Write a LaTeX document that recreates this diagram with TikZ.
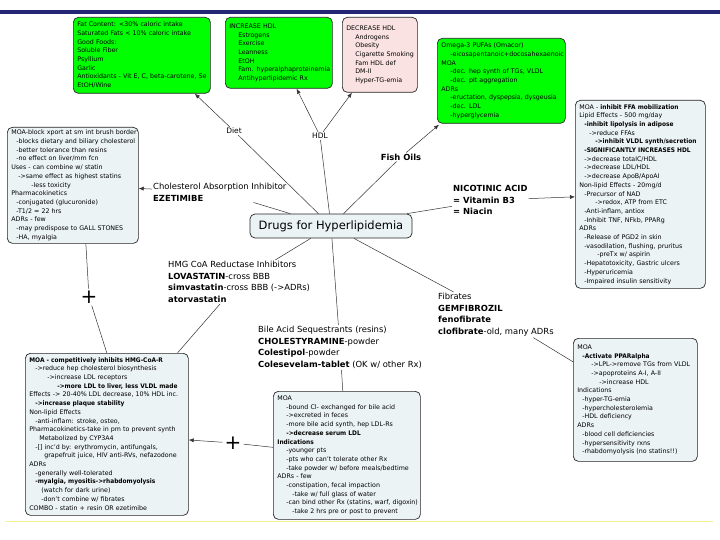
\documentclass[tikz,border=0pt]{standalone}
\usepackage{fontspec}
\setmainfont{DejaVu Sans}[BoldFeatures={FakeStretch=0.93}]
\newfontfamily\labfont{DejaVu Sans}
\usetikzlibrary{arrows.meta}
\definecolor{boxgreen}{RGB}{0,255,0}
\definecolor{boxpink}{RGB}{251,226,226}
\definecolor{boxgray}{RGB}{236,243,245}
\definecolor{navybar}{RGB}{38,38,118}
\definecolor{yelline}{RGB}{246,240,150}
\newcommand{\Ind}[1]{\hspace*{#1pt}}
\newcommand{\Tb}[1]{\begin{tabular}{@{}l@{}}#1\end{tabular}}
\tikzset{
  box/.style={draw=black!85, line width=0.7pt, rounded corners=5pt, anchor=north west,
    align=left, inner xsep=4pt, inner ysep=0pt,
    font=\fontsize{6.3}{8.7}\selectfont},
  gbox/.style={box, fill=boxgreen},
  pbox/.style={box, fill=boxpink},
  ibox/.style={box, fill=boxgray},
  lab/.style={align=left, inner sep=1pt, font=\labfont\fontsize{8.4}{11.7}\selectfont},
  conn/.style={draw=black!80, line width=0.5pt},
  arr/.style={conn, -{Latex[length=5pt,width=4pt]}},
  plus/.style={inner sep=2pt, font=\labfont\fontsize{20}{20}\selectfont},
}
\begin{document}
\begin{tikzpicture}[x=1pt,y=-1pt]
\useasboundingbox (0,0) rectangle (720,540);
\fill[white] (0,0) rectangle (720,540);
\fill[navybar] (0,10) rectangle (720,14);
\draw[yelline, line width=1.5pt] (5,521.5) -- (713,521.5);

% top boxes
\node[gbox, text width=129pt, minimum height=76pt] (fat) at (73,17) {\Tb{%
Fat Content: <30\% caloric intake\\
Saturated Fats < 10\% caloric intake\\
Good Foods:\\
Soluble Fiber\\
Psyllium\\
Garlic\\
Antioxidants - Vit E, C, beta-carotene, Se\\
EtOH/Wine}};

\node[gbox, text width=99pt, minimum height=71pt] (inc) at (225,17) {\Tb{%
INCREASE HDL\\
\Ind{9}Estrogens\\
\Ind{9}Exercise\\
\Ind{9}Leanness\\
\Ind{9}EtOH\\
\Ind{9}Fam. hyperalphaproteinemia\\
\Ind{9}Antihyperlipidemic Rx}};

\node[pbox, text width=67pt, minimum height=75pt] (dec) at (342,17) {\Tb{%
DECREASE HDL\\
\Ind{9}Androgens\\
\Ind{9}Obesity\\
\Ind{9}Cigarette Smoking\\
\Ind{9}Fam HDL def\\
\Ind{9}DM-II\\
\Ind{9}Hyper-TG-emia}};

\node[gbox, text width=120pt, minimum height=85pt] (omega) at (437,38) {\Tb{%
Omega-3 PUFAs (Omacor)\\
\Ind{9}-eicosapentanoic+docosahexaenoic\\
MOA\\
\Ind{9}-dec. hep synth of TGs, VLDL\\
\Ind{9}-dec. plt aggregation\\
ADRs\\
\Ind{9}-eructation, dyspepsia, dysgeusia\\
\Ind{9}-dec. LDL\\
\Ind{9}-hyperglycemia}};

% ezetimibe box
\node[ibox, text width=123pt, minimum height=116pt] (eze) at (7,127) {\Tb{%
MOA-block xport at sm int brush border\\
\Ind{5}-blocks dietary and biliary cholesterol\\
\Ind{5}-better tolerance than resins\\
\Ind{5}-no effect on liver/mm fcn\\
Uses - can combine w/ statin\\
\Ind{7}->same effect as highest statins\\
\Ind{20}-less toxicity\\
Pharmacokinetics\\
\Ind{5}-conjugated (glucuronide)\\
\Ind{5}-T1/2 = 22 hrs\\
ADRs - few\\
\Ind{5}-may predispose to GALL STONES\\
\Ind{5}-HA, myalgia}};

% niacin box
\node[ibox, text width=122pt, minimum height=188pt] (niacin) at (575,100) {\Tb{%
MOA - \textbf{inhibit FFA mobilization}\\
Lipid Effects - 500 mg/day\\
\Ind{5}\textbf{-inhibit lipolysis in adipose}\\
\Ind{10}->reduce FFAs\\
\Ind{16}\textbf{->inhibit VLDL synth/secretion}\\
\Ind{5}\textbf{-SIGNIFICANTLY INCREASES HDL}\\
\Ind{5}->decrease totalC/HDL\\
\Ind{5}->decrease LDL/HDL\\
\Ind{5}->decrease ApoB/ApoAI\\
Non-lipid Effects - 20mg/d\\
\Ind{5}-Precursor of NAD\\
\Ind{16}->redox, ATP from ETC\\
\Ind{5}-Anti-inflam, antiox\\
\Ind{5}-Inhibit TNF, NFkb, PPARg\\
ADRs\\
\Ind{5}-Release of PGD2 in skin\\
\Ind{5}-vasodilation, flushing, pruritus\\
\Ind{18}-preTx w/ aspirin\\
\Ind{5}-Hepatotoxicity, Gastric ulcers\\
\Ind{5}-Hyperuricemia\\
\Ind{5}-Impaired insulin sensitivity}};

% statin box
\node[ibox, text width=155pt, minimum height=162pt] (statin) at (25,353) {\Tb{%
\textbf{MOA - competitively inhibits HMG-CoA-R}\\
\Ind{6}->reduce hep cholesterol biosynthesis\\
\Ind{18}->increase LDL receptors\\
\Ind{28}\textbf{->more LDL to liver, less VLDL made}\\
Effects -> 20-40\% LDL decrease, 10\% HDL inc.\\
\Ind{6}\textbf{->increase plaque stability}\\
Non-lipid Effects\\
\Ind{6}-anti-inflam: stroke, osteo,\\
Pharmacokinetics-take in pm to prevent synth\\
\Ind{10}Metabolized by CYP3A4\\
\Ind{6}-[] inc'd by: erythromycin, antifungals,\\
\Ind{15}grapefruit juice, HIV anti-RVs, nefazodone\\
ADRs\\
\Ind{6}-generally well-tolerated\\
\Ind{6}\textbf{-myalgia, myositis->rhabdomyolysis}\\
\Ind{12}(watch for dark urine)\\
\Ind{12}-don't combine w/ fibrates\\
COMBO - statin + resin OR ezetimibe}};

% bile box
\node[ibox, text width=139pt, minimum height=128pt] (bilebox) at (273,391) {\Tb{%
MOA\\
\Ind{9}-bound Cl- exchanged for bile acid\\
\Ind{9}->excreted in feces\\
\Ind{9}-more bile acid synth, hep LDL-Rs\\
\Ind{9}\textbf{->decrease serum LDL}\\
\textbf{Indications}\\
\Ind{9}-younger pts\\
\Ind{9}-pts who can't tolerate other Rx\\
\Ind{9}-take powder w/ before meals/bedtime\\
ADRs - few\\
\Ind{9}-constipation, fecal impaction\\
\Ind{15}-take w/ full glass of water\\
\Ind{9}-can bind other Rx (statins, warf, digoxin)\\
\Ind{15}-take 2 hrs pre or post to prevent}};

% fibrate box
\node[ibox, text width=116pt, minimum height=123pt] (fibbox) at (573,338) {\Tb{%
MOA\\
\Ind{5}\textbf{-Activate PPARalpha}\\
\Ind{14}->LPL->remove TGs from VLDL\\
\Ind{14}->apoproteins A-I, A-II\\
\Ind{22}->increase HDL\\
Indications\\
\Ind{5}-hyper-TG-emia\\
\Ind{5}-hypercholesterolemia\\
\Ind{5}-HDL deficiency\\
ADRs\\
\Ind{5}-blood cell deficiencies\\
\Ind{5}-hypersensitivity rxns\\
\Ind{5}-rhabdomyolysis (no statins!!)}};

% center
\node[draw=black!85, line width=0.7pt, fill=boxgray, rounded corners=5pt,
  minimum width=162pt, minimum height=24pt, inner sep=0pt,
  font=\labfont\fontsize{11.5}{13}\selectfont] (center) at (331,226) {Drugs for Hyperlipidemia};

% labels
\node[lab, font=\labfont\fontsize{7.5}{9}\selectfont] (diet) at (234,131) {Diet};
\node[lab, font=\labfont\fontsize{7.5}{9}\selectfont] (hdl) at (320,136) {HDL};
\node[lab] (fish) at (401,157) {\textbf{Fish Oils}};
\node[lab, anchor=north west] (chol) at (152,182) {Cholesterol Absorption Inhibitor\\\textbf{EZETIMIBE}};
\node[lab, anchor=north west] (nico) at (452,184) {\textbf{NICOTINIC ACID}\\\textbf{= Vitamin B3}\\\textbf{= Niacin}};
\node[lab, anchor=north west] (hmg) at (167,260) {HMG CoA Reductase Inhibitors\\\textbf{LOVASTATIN}-cross BBB\\\textbf{simvastatin}-cross BBB (->ADRs)\\\textbf{atorvastatin}};
\node[lab, anchor=north west] (bile) at (257,325) {Bile Acid Sequestrants (resins)\\\textbf{CHOLESTYRAMINE}-powder\\\textbf{Colestipol}-powder\\\textbf{Colesevelam-tablet} (OK w/ other Rx)};
\node[lab, anchor=north west] (fib) at (437,292) {Fibrates\\\textbf{GEMFIBROZIL}\\\textbf{fenofibrate}\\\textbf{clofibrate}-old, many ADRs};

\node[plus] (plusA) at (89,297) {+};
\node[plus] (plusB) at (233,443) {+};

% connectors
\draw[conn] (center) -- (diet);
\draw[arr] (diet) -- ([xshift=53pt]fat.south);
\draw[conn] (center) -- (hdl);
\draw[arr] (hdl) -- (inc);
\draw[arr] (hdl) -- (dec);
\draw[conn] (center) -- (fish);
\draw[arr] (fish) -- ([xshift=2pt,yshift=-1pt]omega.south west);
\draw[conn] (center) -- (chol);
\draw[arr] (chol) -- (eze);
\draw[conn] (center) -- (nico);
\draw[arr] (nico) -- (niacin);
\draw[conn] (center) -- (hmg);
\draw[conn] (hmg) -- (statin);
\draw[conn] (center) -- (bile);
\draw[conn] (bile) -- (bilebox);
\draw[conn] (center) -- (fib);
\draw[conn] (fib) -- (fibbox);
\draw[conn] (bilebox) -- (plusB);
\draw[arr] (plusB) -- (statin);
\draw[conn] ([xshift=13pt]eze.south) -- (plusA);
\draw[conn] (plusA) -- (statin.north);
\end{tikzpicture}
\end{document}
